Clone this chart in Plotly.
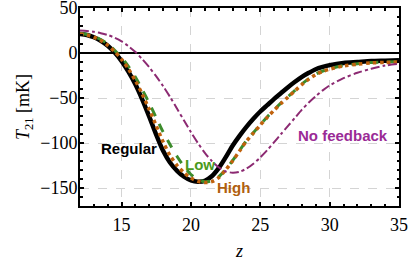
import plotly.graph_objects as go

# Redshift grid (step 0.5 up to 30, then 1) and brightness temperature (mK) for each model
z_grid = [12, 12.5, 13, 13.5, 14, 14.5, 15, 15.5, 16, 16.5, 17, 17.5, 18, 18.5, 19, 19.5, 20, 20.5, 21, 21.5,
          22, 22.5, 23, 23.5, 24, 24.5, 25, 25.5, 26, 26.5, 27, 27.5, 28, 28.5, 29, 29.5, 30, 31, 32, 33, 34, 35]

t_regular = [21, 20, 17.5, 13.5, 8, 0.5, -9, -21, -35, -52, -71, -91, -109, -122, -131, -137.5, -141.5, -143, -142, -137,
             -128, -116, -103, -92, -82, -73, -65, -58, -51, -44.5, -38, -32, -26.5, -22, -18, -15.5, -13.5, -11, -10, -9, -8.5, -8]

t_low = [22, 20.5, 18.5, 15, 10, 3, -5, -15, -27, -41, -56, -72, -88, -102, -115, -126, -135, -140.5, -143, -142,
         -137.5, -129.5, -119.5, -108.5, -97.5, -88.5, -79.5, -71, -63, -55.5, -48.5, -41.5, -34.5, -28.5, -23.5, -20, -17.5, -14, -12, -10.5, -10, -9.5]

t_high = [21, 20, 17.5, 14, 8.5, 1.5, -7, -18, -31, -46, -63, -81, -99, -114, -125, -133, -139, -142.5, -144, -143,
          -138.5, -130, -120, -109, -98, -89, -80, -71.5, -63.5, -56, -49, -42, -35, -29, -24, -20.5, -18, -14.5, -12.5, -11, -10.5, -10]

t_nofb = [25, 24.5, 23.5, 22, 20, 17, 13, 7.5, 1, -7, -16, -26, -37, -49, -62, -75, -88, -100, -111, -120,
          -127, -131.5, -133, -132, -128.5, -123, -116, -108, -99, -90, -81, -72, -63, -55, -48, -41.5, -36, -28, -22, -17.5, -14, -12]

x_ticks = [15, 20, 25, 30, 35]
y_ticks = [-150, -100, -50, 0, 50]

c_black = "#000000"
c_green = "#3c8c2c"
c_orange = "#c0620e"
c_purple = "#8c2a72"

fig = go.Figure()
fig.add_trace(go.Scatter(x=z_grid, y=t_regular, mode="lines", line=dict(color=c_black, width=4.5, shape="spline", smoothing=0.8), name="Regular"))
fig.add_trace(go.Scatter(x=z_grid, y=t_low, mode="lines", line=dict(color=c_green, width=3, dash="dash", shape="spline", smoothing=0.8), name="Low"))
fig.add_trace(go.Scatter(x=z_grid, y=t_high, mode="lines", line=dict(color=c_orange, width=3.5, dash="dot", shape="spline", smoothing=0.8), name="High"))
fig.add_trace(go.Scatter(x=z_grid, y=t_nofb, mode="lines", line=dict(color=c_purple, width=2, dash="dashdot", shape="spline", smoothing=0.8), name="No feedback"))

ann_font = dict(family="Liberation Sans", size=15)
fig.add_annotation(x=15.54, y=-106, text="<b>Regular</b>", showarrow=False, font=dict(**ann_font, color="#000000"))
fig.add_annotation(x=20.66, y=-124, text="<b>Low</b>", showarrow=False, font=dict(**ann_font, color="#4a9a20"))
fig.add_annotation(x=23.04, y=-149, text="<b>High</b>", showarrow=False, font=dict(**ann_font, color="#b0600e"))
fig.add_annotation(x=30.98, y=-92, text="<b>No feedback</b>", showarrow=False, font=dict(**ann_font, color="#9a2a96"))

serif = dict(family="Liberation Serif", size=18, color="#000000")

fig.update_layout(
    width=415, height=261,
    margin=dict(l=80, r=16, t=8, b=55),
    paper_bgcolor="white", plot_bgcolor="white",
    showlegend=False,
    font=serif,
)
fig.update_xaxes(
    automargin=False,
    range=[12, 35], tickvals=x_ticks, ticks="inside", ticklen=4, tickwidth=1.5, tickcolor="black",
    minor=dict(ticks="inside", dtick=1, ticklen=2.5, tickcolor="black", showgrid=False),
    showline=True, linecolor="black", linewidth=2, mirror="allticks",
    showgrid=True, gridcolor="#d4d4d4", griddash="dash", gridwidth=1,
    zeroline=False, tickfont=serif, ticklabelstandoff=1, ticklabeloverflow="allow",
    title=dict(text="<i>z</i>", font=serif, standoff=19),
)
fig.update_yaxes(
    automargin=False,
    range=[-170, 50], tickvals=y_ticks, ticks="inside", ticklen=4, tickwidth=1.5, tickcolor="black",
    minor=dict(ticks="inside", dtick=10, ticklen=2.5, tickcolor="black", showgrid=False),
    showline=True, linecolor="black", linewidth=2, mirror="allticks",
    showgrid=True, gridcolor="#d4d4d4", griddash="dash", gridwidth=1,
    zeroline=True, zerolinecolor="black", zerolinewidth=2,
    tickfont=serif, ticklabelstandoff=-3, ticklabeloverflow="allow",
    title=dict(text="<i>T</i><sub>21</sub> [mK]", font=serif, standoff=6),
)

fig.write_html("out.html", post_script="document.body.style.margin='0';",
               config={"displayModeBar": False})
